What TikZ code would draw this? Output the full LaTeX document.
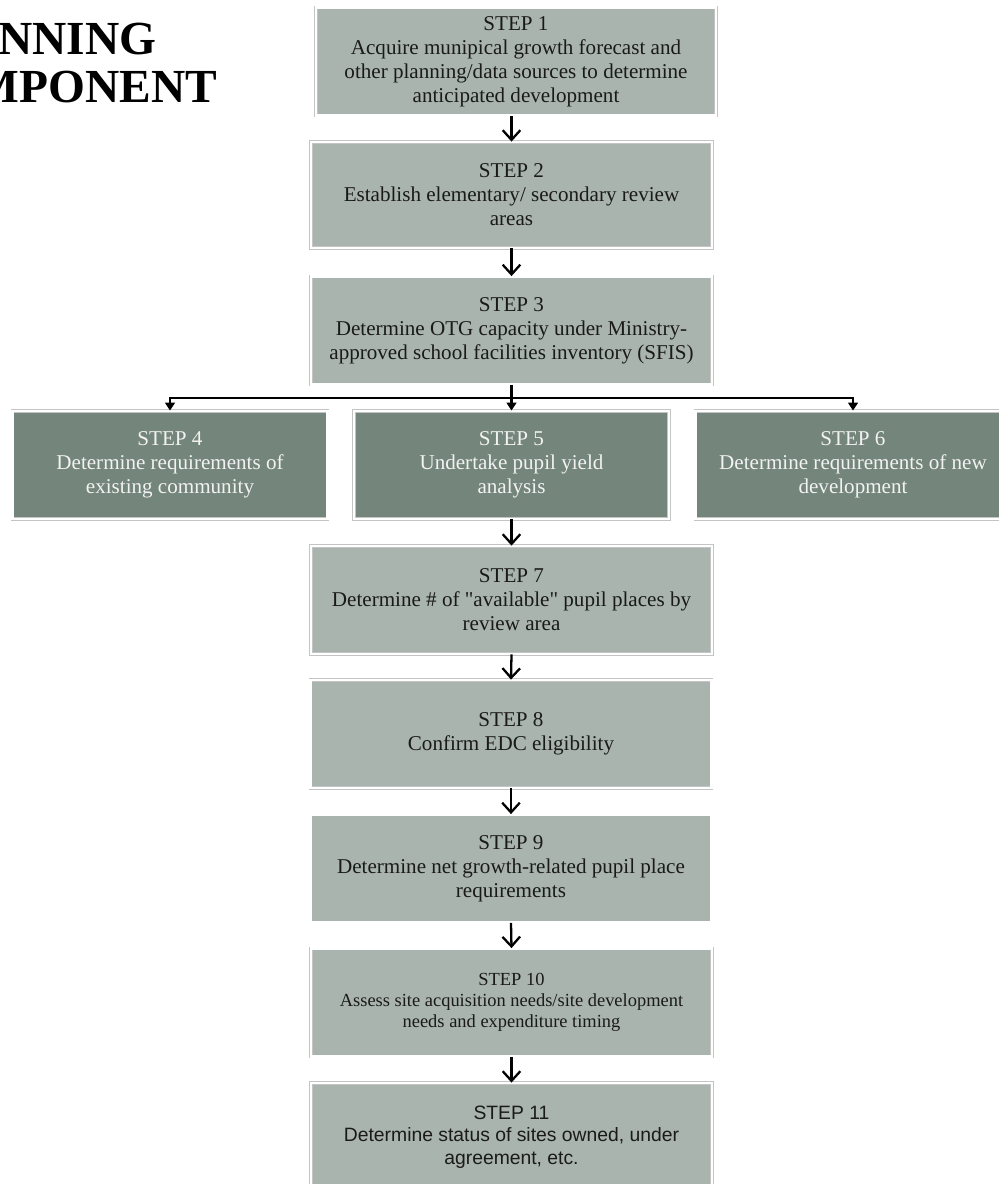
\documentclass[tikz,border=0pt]{standalone}
\usepackage{fontspec}
\setmainfont{Liberation Serif}
\newfontfamily\arialfont{Liberation Sans}
\usetikzlibrary{arrows.meta, calc, positioning}
\definecolor{sagelight}{HTML}{A9B4AF}
\definecolor{sagedark}{HTML}{74857B}
\definecolor{boxedge}{HTML}{C4C4C4}
\definecolor{inkdark}{HTML}{1A1A1A}
\definecolor{inklight}{HTML}{F2F2F2}
\tikzset{
    stepbase/.style={draw=boxedge, double=white, double distance=1.2pt, line width=0.5pt, inner sep=0cm, align=center, minimum height=2.16cm, font=\fontsize{12}{13.6}\selectfont},
    lightbox/.style={stepbase, fill=sagelight, text=inkdark, minimum width=8.02cm},
    darkbox/.style={stepbase, fill=sagedark, text=inklight, minimum width=6.3cm},
    title/.style={inner sep=0cm, font=\bfseries\fontsize{27}{29}\selectfont},
    flow/.style={-{Straight Barb[length=5.5pt, width=10pt, line width=1.3pt]}, line width=1.3pt},
    branch/.style={-{Triangle[length=4.5pt, width=5.5pt]}, line width=1.2pt}
}
\newcommand{\lightstep}[4][]{
    \node[lightbox, #1] (#2) at (#3) {#4};
}
\newcommand{\darkstep}[4][]{
    \node[darkbox, #1] (#2) at (#3) {#4};
}
\begin{document}
\begin{tikzpicture}[x=0.02cm, y=-0.02cm]
    \useasboundingbox (0, 0) rectangle (999, 1184);
    \clip (0, 0) rectangle (999, 1184);
    \node[title, anchor=base west] (plan) at (-97, 54) {PLANNING};
    \node[title, anchor=base west] (comp) at (-97, 102) {COMPONENT};
    \lightstep[minimum width=8cm]{S1}{516, 61.5}{STEP 1\\Acquire munipical growth forecast and\\other planning/data sources to determine\\anticipated development}
    \lightstep[minimum height=2.12cm]{S2}{511.5, 195}{STEP 2\\Establish elementary/ secondary review\\areas}
    \lightstep{S3}{511.5, 330.5}{STEP 3\\Determine OTG capacity under Ministry-\\approved school facilities inventory (SFIS)}
    \darkstep{S4}{170, 465}{STEP 4\\Determine requirements of\\existing community}
    \darkstep{S5}{511.5, 465}{STEP 5\\Undertake pupil yield\\analysis}
    \darkstep{S6}{853, 465}{STEP 6\\Determine requirements of new\\development}
    \lightstep{S7}{511.5, 600}{STEP 7\\Determine \# of \textquotedbl available\textquotedbl\ pupil places by\\review area}
    \lightstep{S8}{511, 734}{STEP 8\\Confirm EDC eligibility}
    \lightstep{S9}{511, 868.5}{STEP 9\\Determine net growth-related pupil place\\requirements}
    \lightstep[font=\fontsize{10.5}{12}\selectfont]{S10}{511.5, 1002.5}{STEP 10\\Assess site acquisition needs/site development\\needs and expenditure timing}
    \lightstep[font=\arialfont\fontsize{11}{12.8}\selectfont]{S11}{511.5, 1137}{STEP 11\\Determine status of sites owned, under\\agreement, etc.}
    \coordinate (split) at ($(S3.south) + (0, 13)$);
    \draw
    (S2.north |- S1.south) edge[flow] (S2.north)
    (S2.south) edge[flow] (S3.north)
    (S5.south) edge[flow] (S7.north)
    (S7.south) edge[flow] (S8.north)
    (S8.south) edge[flow] (S9.north)
    (S9.south) edge[flow] (S10.north)
    (S10.south) edge[flow] (S11.north);
    \draw[branch] (S3.south) -- (S5.north);
    \draw[branch] (split) -| (S4.north);
    \draw[branch] (split) -| (S6.north);
\end{tikzpicture}
\end{document}
